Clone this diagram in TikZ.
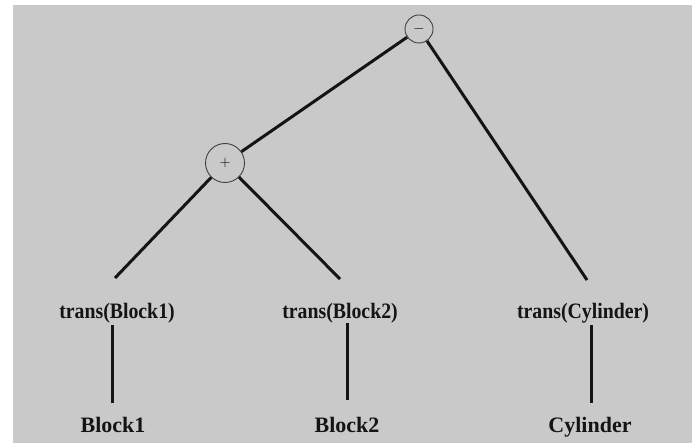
\documentclass[tikz,border=0pt]{standalone}
\usepackage{fontspec}
\setmainfont{Liberation Serif}
\usetikzlibrary{calc}
\begin{document}
\begin{tikzpicture}[x=1pt,y=-1pt,
  lbl/.style={font=\bfseries\fontsize{22}{24}\selectfont, inner sep=1pt, text=black!92, anchor=base},
  op/.style={circle, draw=black!75, line width=0.9pt, inner sep=0pt, font=\fontsize{15}{15}\selectfont},
  edge/.style={line width=3pt, black!92}]
\useasboundingbox (0,0) rectangle (692,443);
\fill[white] (0,0) rectangle (692,443);
\fill[gray!42] (13,5) rectangle (692,443);
\node[op, minimum size=28pt] (minus) at (419,29) {$-$};
\node[op, minimum size=39pt] (plus) at (225,163) {$+$};
\node[lbl] (tb1) at (117,318) {\scalebox{0.9}[1]{trans(Block1)}};
\node[lbl] (tb2) at (340,318) {\scalebox{0.9}[1]{trans(Block2)}};
\node[lbl] (tc) at (583,318) {\scalebox{0.9}[1]{trans(Cylinder)}};
\node[lbl] (b1) at (113,432) {Block1};
\node[lbl] (b2) at (347,432) {Block2};
\node[lbl] (cy) at (590,432) {Cylinder};
\draw[edge] (minus) -- (plus);
\draw[edge] (minus) -- ($(tc.base)+(4,-38)$);
\draw[edge] (plus) -- ($(tb1.base)+(-2,-40)$);
\draw[edge] (plus) -- ($(tb2.base)+(0,-39)$);
\draw[edge] ($(b1.base)+(-1,-29)$) -- ($(b1.base)+(-1,-107)$);
\draw[edge] ($(b2.base)+(0,-32)$) -- ($(b2.base)+(0,-109)$);
\draw[edge] ($(cy.base)+(1,-29)$) -- ($(cy.base)+(1,-107)$);
\end{tikzpicture}
\end{document}
